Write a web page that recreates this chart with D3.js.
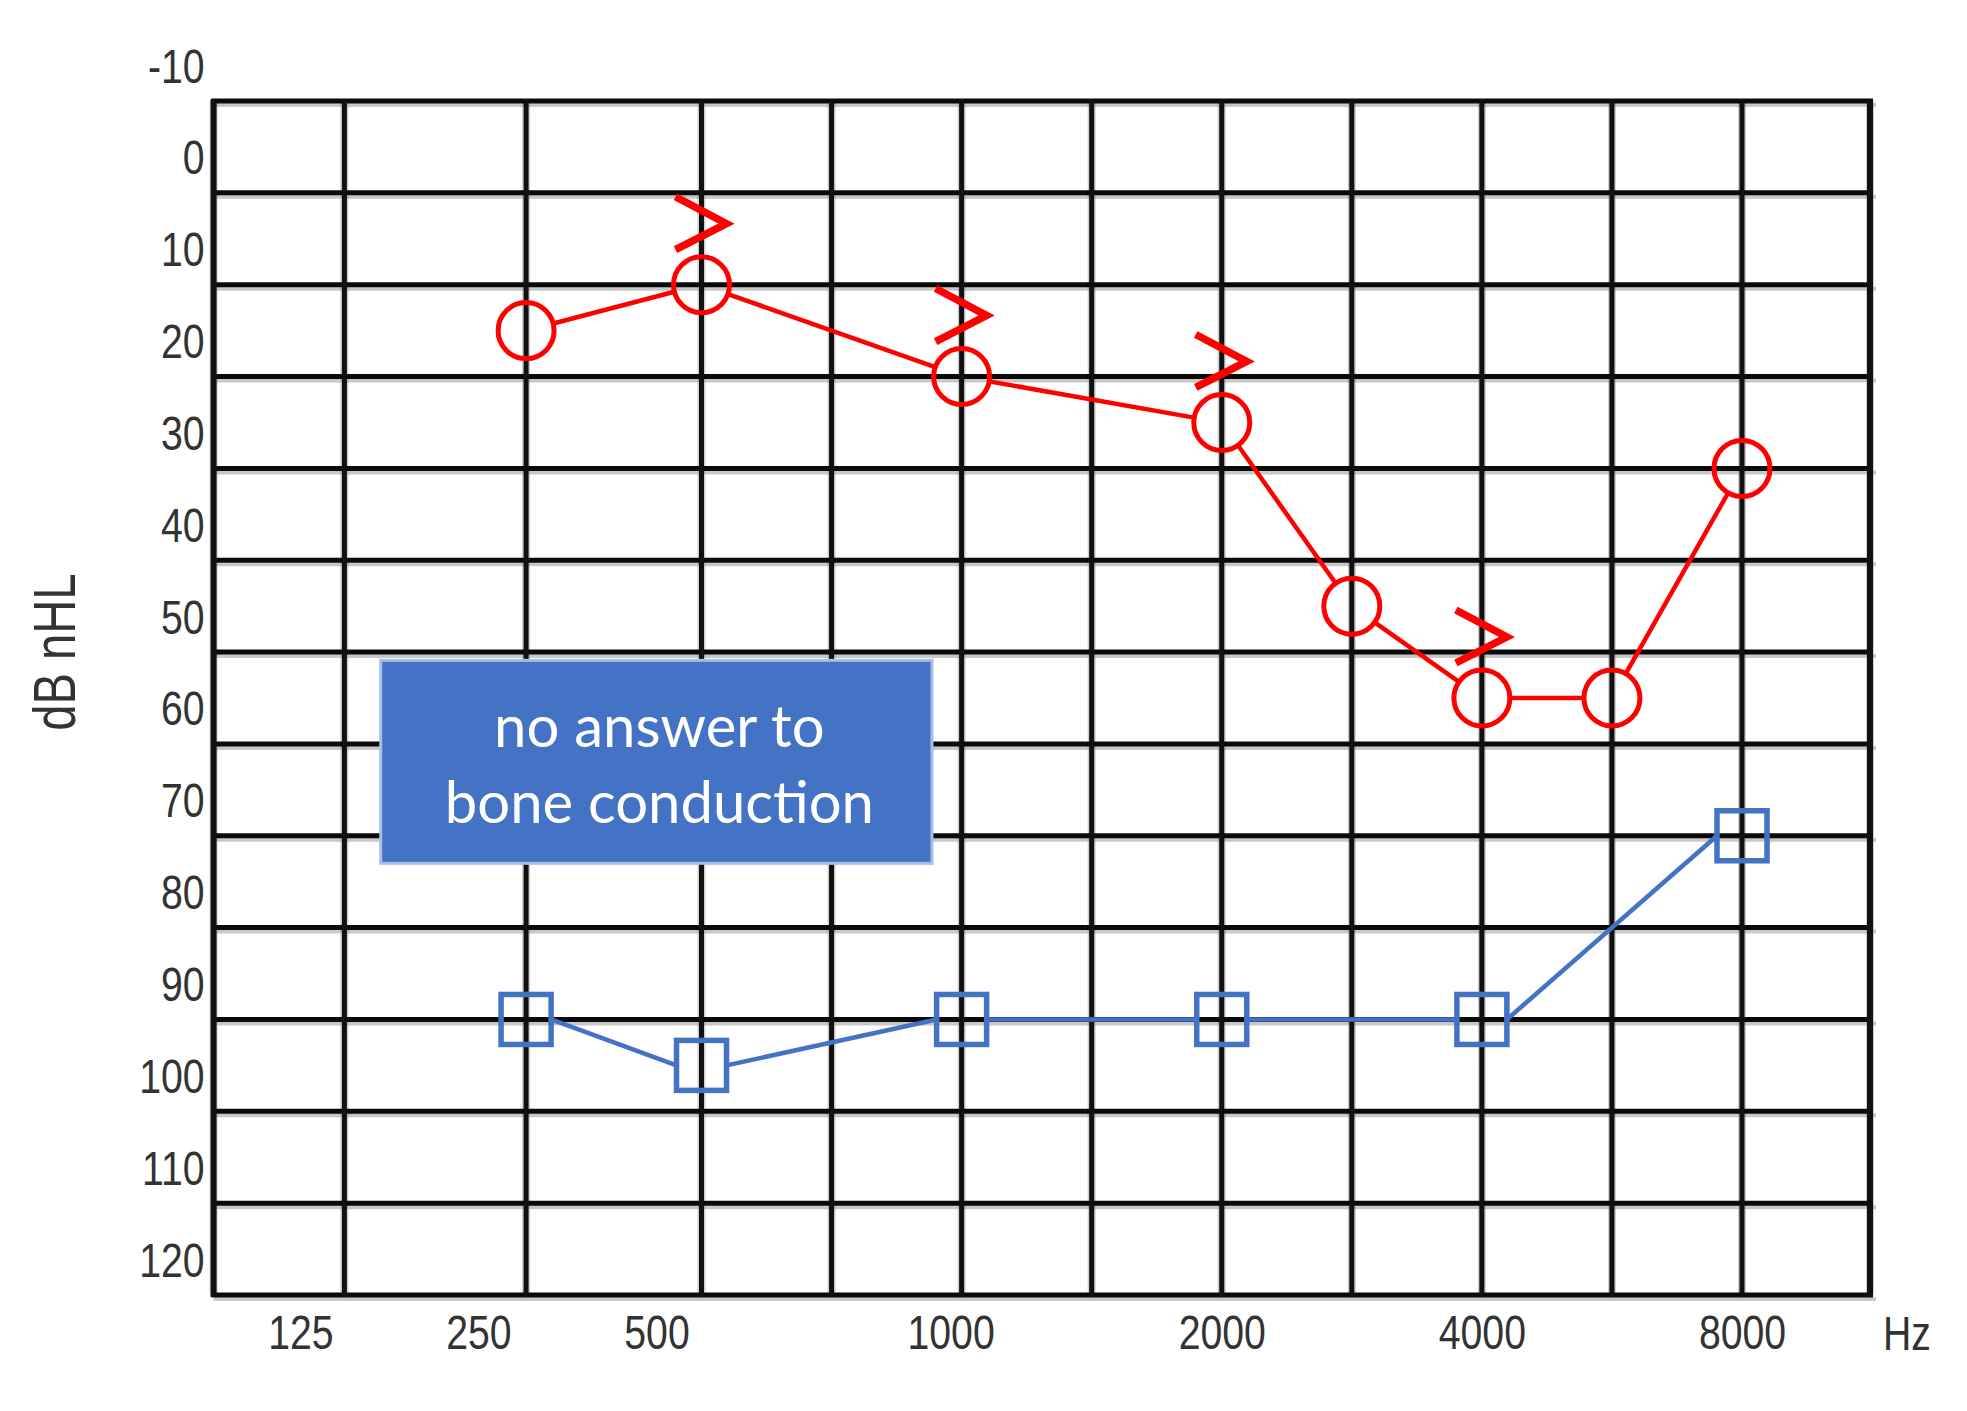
<!DOCTYPE html>
<html>
<head>
<meta charset="utf-8">
<script src="https://cdn.jsdelivr.net/npm/d3@7/dist/d3.min.js"></script>
<style>
  html, body { margin: 0; padding: 0; background: #fff; }
  svg { display: block; }
</style>
</head>
<body>
<svg id="chart" width="1967" height="1411"></svg>
<script>
// ---------------- DATA ----------------
const airFreqs   = [250, 500, 1000, 2000, 3000, 4000, 6000, 8000];
const airValues  = [20, 15, 25, 30, 50, 60, 60, 35];
const boneFreqs  = [250, 500, 1000, 2000, 4000, 8000];
const boneValues = [95, 100, 95, 95, 95, 75];
const markerFreqs = [500, 1000, 2000, 4000];          // ">" marks above the red curve
const yTickLabels = [-10, 0, 10, 20, 30, 40, 50, 60, 70, 80, 90, 100, 110, 120];
const xTickLabels = [125, 250, 500, 1000, 2000, 4000, 8000];
const gridFreqs   = [125, 250, 500, 750, 1000, 1500, 2000, 3000, 4000, 6000, 8000];
const gridDb      = [-5, 5, 15, 25, 35, 45, 55, 65, 75, 85, 95, 105, 115, 125];
const noteLines   = ["no answer to", "bone conduction"];
const yAxisTitle  = "dB nHL";
const xAxisTitle  = "Hz";

// ---------------- LAYOUT ----------------
const W = 1967, H = 1411;
const plotTop = 101, plotBottom = 1295;
const numFont = "'Liberation Sans', Arial, sans-serif";
const squeeze = 0.8;   // narrow look of the original labels
// frequency -> column index (octaves from 125 Hz; 1.5x frequencies sit half way)
function fIndex(f) {
  const k = Math.log2(f / 125);
  const fl = Math.floor(k + 1e-9);
  return (k - fl > 0.01) ? fl + 0.5 : fl;
}
const x = d3.scaleLinear()
  .domain([-0.5, 0, 1, 2, 6, 6.5])
  .range([213.6, 344.4, 526.1, 701.5, 1742, 1870]);
const xLab = d3.scaleLinear()
  .domain([0, 2, 3, 4, 6])
  .range([x(0) - 44, x(2) - 45, x(3) - 11, x(4), x(6)]);
const y = d3.scaleLinear().domain([-5, 125]).range([plotTop, plotBottom]);

const red = "#ff0000", blue = "#4472C4";
const R = 28;          // circle radius
const S = 50;          // square side

const svg = d3.select("#chart");
svg.append("rect").attr("width", W).attr("height", H).attr("fill", "#fff");

// ---------------- GRID ----------------
const grid = svg.append("g");
const xLeft = x(-0.5), xRight = x(6.5);
const vLines = [-0.5].concat(gridFreqs.map(fIndex)).concat([6.5]);

grid.selectAll("line.hh").data(gridDb).join("line")
  .attr("x1", xLeft).attr("x2", xRight + 6)
  .attr("y1", d => y(d) + 4).attr("y2", d => y(d) + 4)
  .attr("stroke", "#9a9a9a").attr("stroke-opacity", 0.55).attr("stroke-width", 4);
grid.selectAll("line.vh").data(vLines).join("line")
  .attr("x1", d => x(d)).attr("x2", d => x(d))
  .attr("y1", plotTop).attr("y2", plotBottom)
  .attr("stroke", "#777").attr("stroke-opacity", 0.35).attr("stroke-width", 8);

grid.selectAll("line.h").data(gridDb).join("line")
  .attr("x1", xLeft - 2).attr("x2", xRight + 3)
  .attr("y1", d => y(d)).attr("y2", d => y(d))
  .attr("stroke", "#0a0a0a").attr("stroke-width", 5);
grid.selectAll("line.v").data(vLines).join("line")
  .attr("x1", d => x(d)).attr("x2", d => x(d))
  .attr("y1", plotTop - 2).attr("y2", plotBottom + 2)
  .attr("stroke", "#111").attr("stroke-width", d => (d === -0.5 || d === 6.5) ? 6 : 5);

// ---------------- AXES ----------------
const yAxis = d3.axisLeft(y).tickValues(yTickLabels).tickFormat(d => String(d))
  .tickSize(0).tickPadding(0);
const gy = svg.append("g").attr("transform", `translate(${xLeft - 9},0)`).call(yAxis);
gy.select(".domain").remove();
gy.selectAll("text").attr("font-size", 49).attr("dy", "0.55em")
  .attr("transform", `scale(${squeeze},1)`)
  .style("font-family", numFont).attr("fill", "#333");

const xAxis = d3.axisBottom(xLab).tickValues(xTickLabels.map(fIndex))
  .tickFormat((d, i) => xTickLabels[i]).tickSize(0).tickPadding(0);
const gx = svg.append("g").attr("transform", `translate(0,${plotBottom + 19})`).call(xAxis);
gx.select(".domain").remove();
gx.selectAll("text").attr("font-size", 49).attr("dy", "0.71em")
  .attr("transform", `scale(${squeeze},1)`)
  .style("font-family", numFont).attr("fill", "#333");

svg.append("text")
  .attr("transform", `translate(${xRight + 37},${plotBottom + 55}) scale(${squeeze},1)`)
  .attr("text-anchor", "middle").attr("font-size", 49)
  .style("font-family", numFont).attr("fill", "#333").text(xAxisTitle);

svg.append("text")
  .attr("transform", `translate(${xLeft - 160},${y(55)}) rotate(-90) scale(${squeeze},1)`)
  .attr("text-anchor", "middle").attr("dy", "0.36em").attr("font-size", 59)
  .style("font-family", numFont).attr("fill", "#333").text(yAxisTitle);

// ---------------- AIR CONDUCTION (red circles) ----------------
const airPts = airFreqs.map((f, i) => ({ x: x(fIndex(f)), y: y(airValues[i]), f: f, v: airValues[i] }));
const airSegs = d3.pairs(airPts).map(([a, b]) => {
  const dx = b.x - a.x, dy = b.y - a.y, L = Math.hypot(dx, dy);
  return { x1: a.x + R * dx / L, y1: a.y + R * dy / L, x2: b.x - R * dx / L, y2: b.y - R * dy / L };
});
const gRed = svg.append("g");
gRed.selectAll("line").data(airSegs).join("line")
  .attr("x1", d => d.x1).attr("y1", d => d.y1).attr("x2", d => d.x2).attr("y2", d => d.y2)
  .attr("stroke", red).attr("stroke-width", 4.5).attr("stroke-linecap", "round");
gRed.selectAll("circle").data(airPts).join("circle")
  .attr("cx", d => d.x).attr("cy", d => d.y).attr("r", R)
  .attr("fill", "none").attr("stroke", red).attr("stroke-width", 5);

const markPts = airPts.filter(p => markerFreqs.includes(p.f));
gRed.selectAll("path.mark").data(markPts).join("path")
  .attr("class", "mark")
  .attr("transform", d => `translate(${d.x},${d.y})`)
  .attr("d", "M -26,-88 L 25,-61 L -26,-35")
  .attr("fill", "none").attr("stroke", red).attr("stroke-width", 7.5)
  .attr("stroke-linejoin", "miter").attr("stroke-linecap", "butt");

// ---------------- BONE CONDUCTION (blue squares) ----------------
const bonePts = boneFreqs.map((f, i) => ({ x: x(fIndex(f)), y: y(boneValues[i]) }));
const boneSegs = d3.pairs(bonePts).map(([a, b]) => ({ x1: a.x + S / 2, y1: a.y, x2: b.x - S / 2, y2: b.y }));
const gBlue = svg.append("g");
gBlue.selectAll("line").data(boneSegs).join("line")
  .attr("x1", d => d.x1).attr("y1", d => d.y1).attr("x2", d => d.x2).attr("y2", d => d.y2)
  .attr("stroke", blue).attr("stroke-width", 4.5);
gBlue.selectAll("rect").data(bonePts).join("rect")
  .attr("x", d => d.x - S / 2).attr("y", d => d.y - S / 2)
  .attr("width", S).attr("height", S)
  .attr("fill", "none").attr("stroke", blue).attr("stroke-width", 5.5);

// ---------------- NOTE BOX ----------------
const bx0 = x(0.2), bx1 = x(2.886), by0 = y(55.9), by1 = y(78);
svg.append("rect")
  .attr("x", bx0).attr("y", by0).attr("width", bx1 - bx0).attr("height", by1 - by0)
  .attr("fill", blue).attr("stroke", "#a9bde6").attr("stroke-width", 3);
svg.append("g").selectAll("text").data(noteLines).join("text")
  .attr("x", (bx0 + bx1) / 2 + 3)
  .attr("y", (d, i) => by0 + 87 + i * 76)
  .attr("text-anchor", "middle")
  .attr("font-family", "Lato, 'Open Sans', sans-serif")
  .attr("font-size", 58)
  .attr("fill", "#ffffff")
  .text(d => d);
</script>
</body>
</html>
